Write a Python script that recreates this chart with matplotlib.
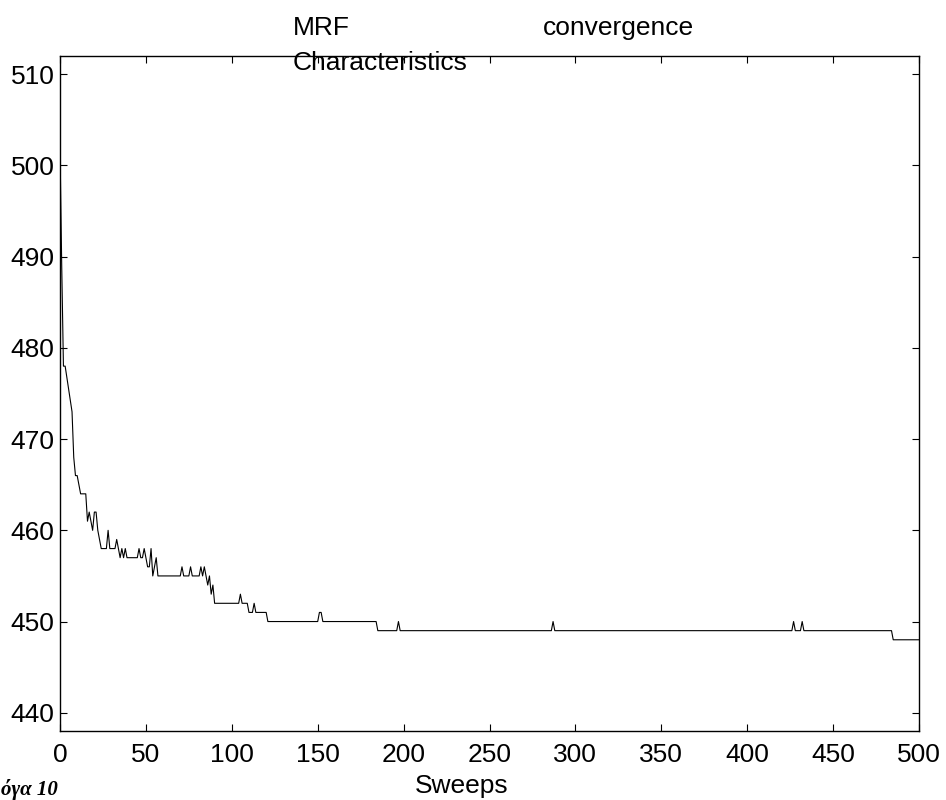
import matplotlib
matplotlib.use("Agg")
import matplotlib.pyplot as plt

# Data
sweeps = [0, 1, 2, 3, 7, 8, 9, 10, 11, 12, 15, 16, 17, 18, 19, 20, 21, 22, 23, 24,
          27, 28, 29, 32, 33, 34, 35, 36, 37, 38, 39, 45, 46, 47, 48, 49, 50, 51, 52,
          53, 54, 55, 56, 57, 70, 71, 72, 75, 76, 77, 81, 82, 83, 84, 85, 86, 87, 88,
          89, 90, 104, 105, 106, 109, 110, 112, 113, 114, 120, 121, 150, 151, 152, 153,
          184, 185, 196, 197, 198, 286, 287, 288, 426, 427, 428, 431, 432, 433, 484, 485, 500]
energy = [502, 489, 478, 478, 473, 468, 466, 466, 465, 464, 464, 461, 462, 461, 460, 462, 462, 460, 459, 458,
          458, 460, 458, 458, 459, 458, 457, 458, 457, 458, 457, 457, 458, 457, 457, 458, 457, 456, 456,
          458, 455, 456, 457, 455, 455, 456, 455, 455, 456, 455, 455, 456, 455, 456, 455, 454, 455, 453,
          454, 452, 452, 453, 452, 452, 451, 451, 452, 451, 451, 450, 450, 451, 451, 450,
          450, 449, 449, 450, 449, 449, 450, 449, 449, 450, 449, 449, 450, 449, 449, 448, 448]

xticks = [0, 50, 100, 150, 200, 250, 300, 350, 400, 450, 500]
yticks = [440, 450, 460, 470, 480, 490, 500, 510]

plt.rcParams['font.family'] = ['Liberation Sans', 'DejaVu Sans']

fig = plt.figure(figsize=(9.46, 8.0), dpi=100)
ax = fig.add_axes([60/946, 1 - 731/800, (919-60)/946, (731-56)/800])

ax.plot(sweeps, energy, color='black', linewidth=0.8)

ax.set_xlim(0, 500)
ax.set_ylim(438, 512)
ax.set_xticks(xticks)
ax.set_yticks(yticks)
ax.tick_params(axis='both', direction='in', length=5, width=0.8,
               top=True, right=True, labelsize=19)
ax.tick_params(axis='x', pad=9)
ax.tick_params(axis='y', pad=4)
for s in ax.spines.values():
    s.set_linewidth(1.0)

fs = 19
fig.text(293/946, 1 - 35/800, "MRF", fontsize=fs, ha='left', va='baseline')
fig.text(543/946, 1 - 35/800, "convergence", fontsize=fs, ha='left', va='baseline')
fig.text(293/946, 1 - 70/800, "Characteristics", fontsize=fs, ha='left', va='baseline')
fig.text(462/946, 1 - 793/800, "Sweeps", fontsize=fs, ha='center', va='baseline')
fig.text(1/946, 1 - 795/800, "όγα 10", fontsize=15, ha='left', va='baseline',
         family=['Liberation Serif', 'DejaVu Serif'], weight='bold', style='italic')

fig.savefig("out.png", dpi=100)
